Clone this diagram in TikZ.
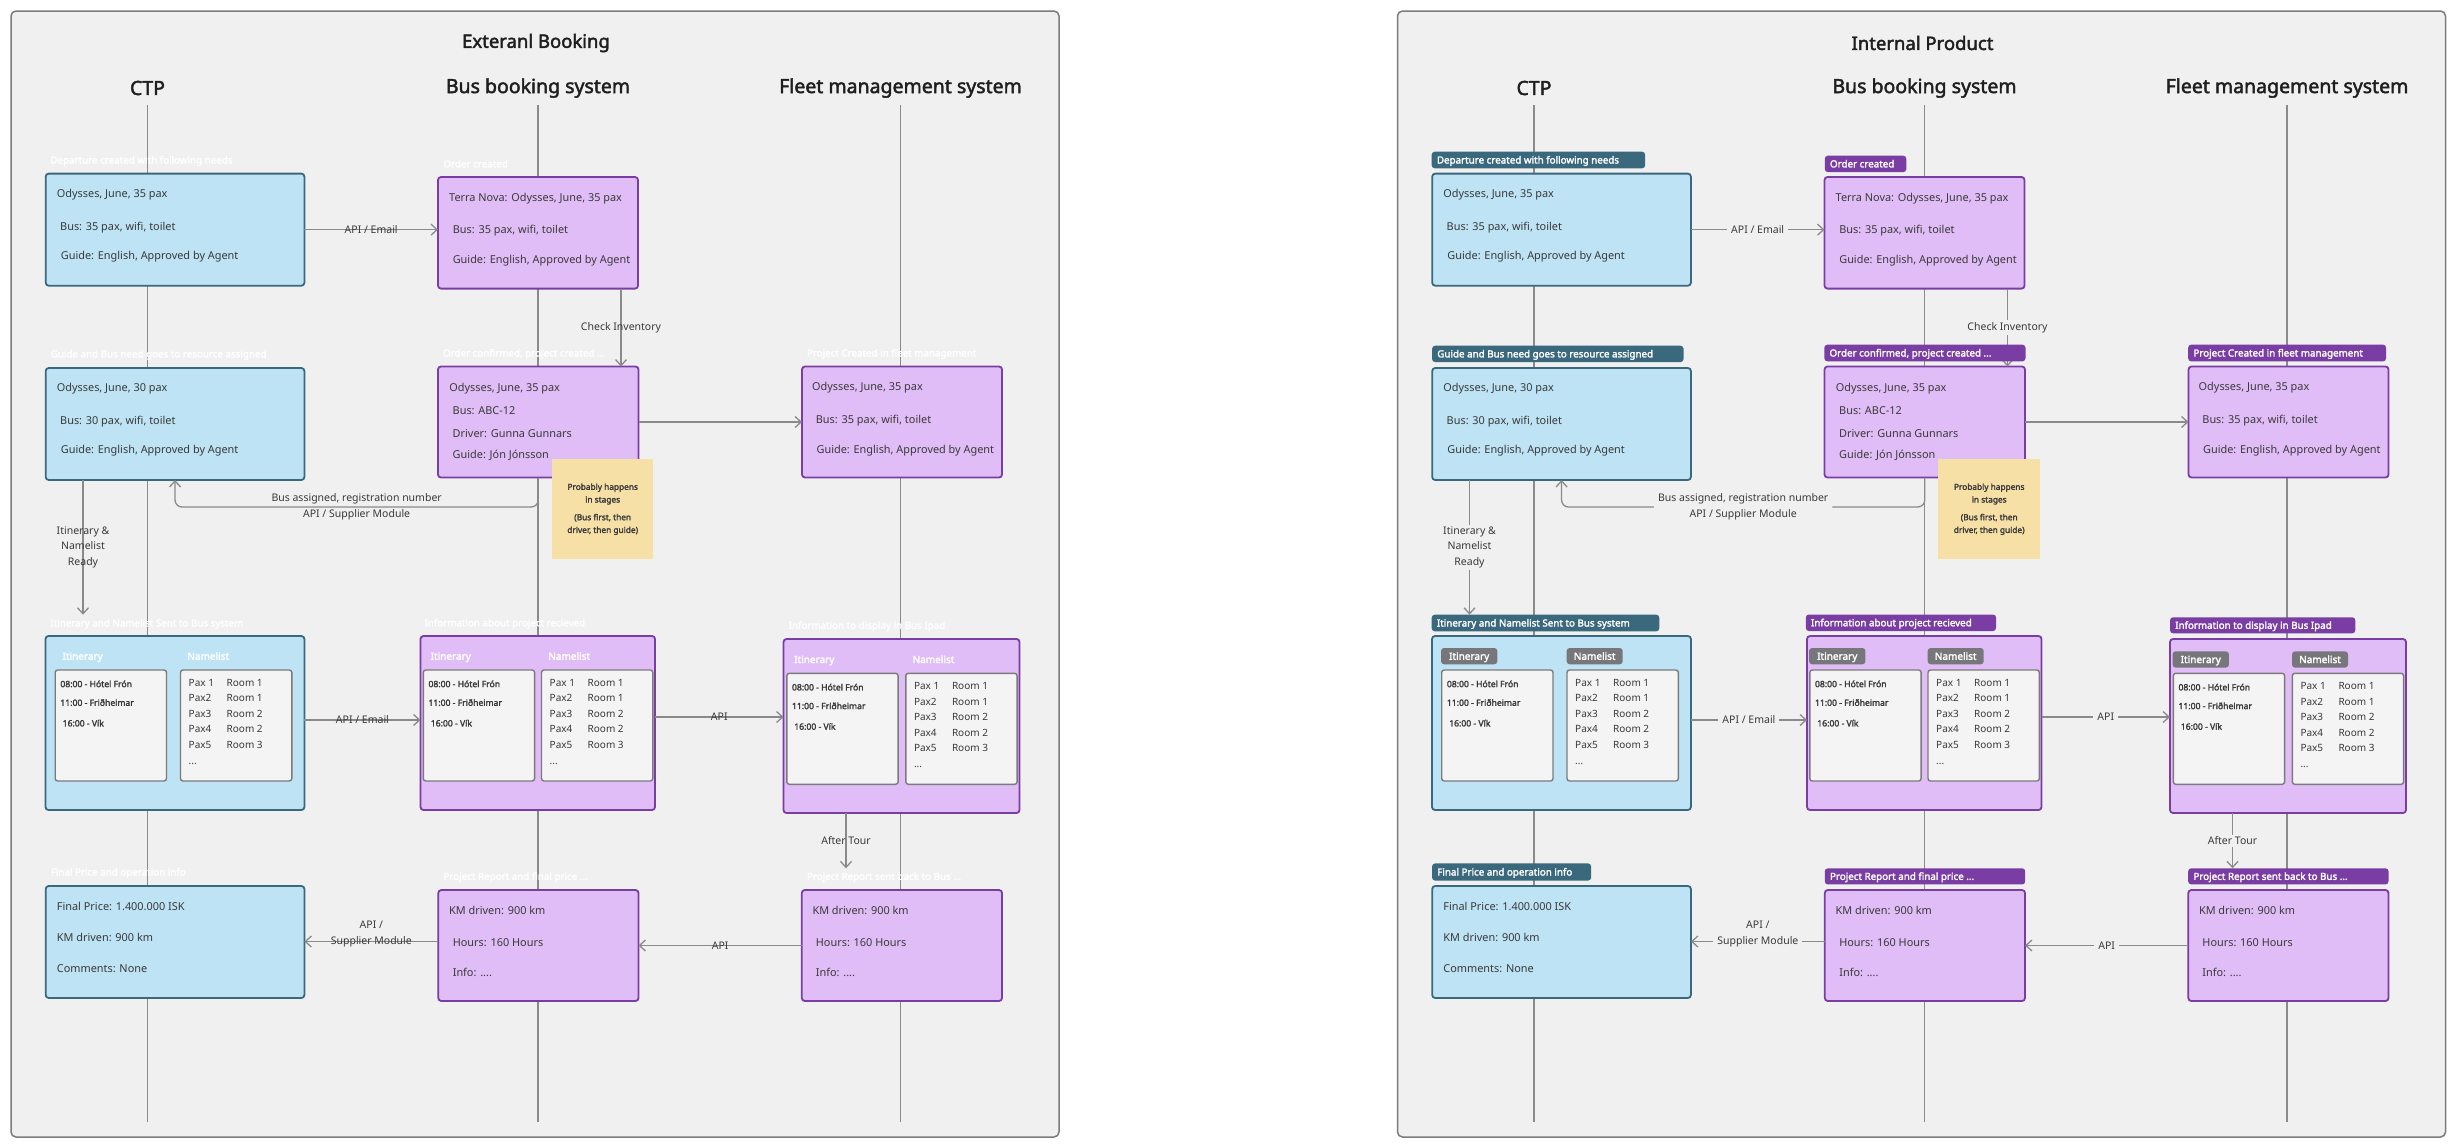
\documentclass[tikz,border=0pt]{standalone}
\usepackage{fontspec}
\setmainfont{Noto Sans}[AutoFakeBold=2.2]
\usetikzlibrary{arrows.meta,calc}
\definecolor{panelbg}{HTML}{F0F0F0}
\definecolor{panelline}{HTML}{7C7C7C}
\definecolor{bfill}{HTML}{BDE3F5}
\definecolor{bdark}{HTML}{3A687D}
\definecolor{pfill}{HTML}{E0BDF6}
\definecolor{pdark}{HTML}{7A3DA3}
\definecolor{gtag}{HTML}{77777B}
\definecolor{infill}{HTML}{F4F4F4}
\definecolor{inline}{HTML}{7B7B7B}
\definecolor{stickyc}{HTML}{F6E0A6}
\definecolor{linec}{HTML}{8A8A8A}
\definecolor{txtc}{HTML}{3A3A3A}

\newcommand\mkbox[6]{\node[#2, anchor=north west, minimum width={(#5-#3)*1pt}, minimum height={(#6-#4)*1pt}] (#1) at (#3,#4) {};}
\newcommand\mktag[7]{\mkbox{#1}{#2}{#3}{#4}{#5}{#6}\node[tagtxt, anchor=west] (#1x) at ($(#1.west)+(5,0)$) {#7};}
\newcommand\mktxt[4]{\node[boxtxt] (#1) at (#2,#3) {#4};}
\newcommand\mkgroup[4]{%
\node[innerbox, anchor=north west, minimum width=111.3pt, minimum height=111pt] (#1i) at (#2,#3) {};
\node[innerbox, anchor=north west, minimum width=111.3pt, minimum height=111pt] (#1n) at (#4,#3) {};
\node[graytag, anchor=north west, minimum width=56.3pt, minimum height=16.3pt] (#1ti) at ({#2-0.7},{#3-22}) {Itinerary};
\node[graytag, anchor=north west, minimum width=56pt, minimum height=16.3pt] (#1tn) at ({#4-0.3},{#3-22}) {Namelist};
\node[itxt] (#1i1) at ({#2+5},{#3+14}) {08:00 - Hótel Frón};
\node[itxt] (#1i2) at ({#2+5},{#3+32.7}) {11:00 - Friðheimar};
\node[itxt] (#1i3) at ({#2+7.3},{#3+53.3}) {16:00 - Vík};
\node[ntxt] (#1p1) at ({#4+8},{#3+12.7}) {Pax 1};
\node[ntxt] (#1r1) at ({#4+46},{#3+12.7}) {Room 1};
\node[ntxt] (#1p2) at ({#4+8},{#3+28.3}) {Pax2};
\node[ntxt] (#1r2) at ({#4+46},{#3+28.3}) {Room 1};
\node[ntxt] (#1p3) at ({#4+8},{#3+44}) {Pax3};
\node[ntxt] (#1r3) at ({#4+46},{#3+44}) {Room 2};
\node[ntxt] (#1p4) at ({#4+8},{#3+59.3}) {Pax4};
\node[ntxt] (#1r4) at ({#4+46},{#3+59.3}) {Room 2};
\node[ntxt] (#1p5) at ({#4+8},{#3+75}) {Pax5};
\node[ntxt] (#1r5) at ({#4+46},{#3+75}) {Room 3};
\node[ntxt] (#1p6) at ({#4+8},{#3+91}) {...};
}

\newcommand\mkpanel[1]{%
\node[panelfr, anchor=north west, minimum width=1048pt, minimum height=1126pt] (frame) at (11,11) {};
\node[titlef] (title) at (536,43) {#1};
\node[headf] (hctp) at (147.5,88) {CTP};
\node[headf] (hbus) at (538,88) {Bus booking system};
\node[headf] (hfleet) at (900.5,88) {Fleet management system};
\coordinate (lct) at (147.5,105); \coordinate (lcb) at (147.5,1122);
\coordinate (lbt) at (538,105); \coordinate (lbb) at (538,1122);
\coordinate (lft) at (900.5,105); \coordinate (lfb) at (900.5,1122);
\draw[life] (lct) -- (lcb);
\draw[life] (lbt) -- (lbb);
\draw[life] (lft) -- (lfb);
% boxes
\mkbox{b1}{bluebox}{45.7}{173.6}{304.4}{285.7}
\mkbox{b2}{purplebox}{438}{177}{638}{288.6}
\mkbox{b3}{bluebox}{45.7}{368}{304.4}{480}
\mkbox{b4}{purplebox}{438}{366.5}{638.5}{477.5}
\mkbox{b5}{purplebox}{802}{366.5}{1002}{477.5}
\mkbox{b6}{bluebox}{45.5}{636}{304.4}{810}
\mkbox{b7}{purplebox}{420.5}{636}{655}{810}
\mkbox{b8}{purplebox}{783.5}{639}{1019.5}{813}
\mkbox{b9}{bluebox}{45.7}{886}{304.4}{998}
\mkbox{b10}{purplebox}{438.3}{890}{638.5}{1001}
\mkbox{b11}{purplebox}{801.8}{890}{1002}{1001}
% connectors (under tags)
\coordinate (ba) at (0,507);
\draw[conn] (b1.east) -- node[elab] (e1) {API / Email} (b2.west |- b1.east);
\draw[conn] ($(b2.south east)+(-17,0)$) coordinate (ci) -- node[elab] (e2) {Check Inventory} (b4.north -| ci);
\draw[conn, rounded corners=7pt] (b4.south) -- (b4.south |- ba) -- node[elab] (e3) {Bus assigned, registration number\\API / Supplier Module} (b3.south |- ba) -- (b3.south);
\draw[conn] (b4.east) -- (b5.west |- b4.east);
\draw[conn] ($(b6.east)+(0,-3)$) coordinate (a6) -- node[elab] (e5) {API / Email} (b7.west |- a6);
\draw[conn] ($(b7.east)+(0,-6)$) coordinate (a7) -- node[elab] (e6) {API} (b8.west |- a7);
\draw[conn] (b11.west) -- node[elab] (e7) {API} (b10.east |- b11.west);
\draw[conn] ($(b10.west)+(0,-4)$) coordinate (a10) -- node[elab, yshift=7.5pt] (e8) {API /\\Supplier Module} (b9.east |- a10);
% tags
\mktag{t1}{tagblue}{45.2}{151.7}{258.6}{168.3}{Departure created with following needs}
\mktag{t2}{tagpurple}{438.3}{155.7}{519.8}{172.1}{Order created}
\mktag{t3}{tagblue}{45.6}{345.7}{297}{362.1}{Guide and Bus need goes to resource assigned}
\mktag{t4}{tagpurple}{437.8}{344.7}{639}{361.3}{Order confirmed, project created ...}
\mktag{t5}{tagpurple}{801.7}{344.6}{999.5}{361.4}{Project Created in fleet management}
\mktag{t6}{tagblue}{45.2}{614.7}{272.8}{631.3}{Itinerary and Namelist Sent to Bus system}
\mktag{t7}{tagpurple}{419.3}{614.5}{609.5}{631}{Information about project recieved}
\mktag{t8}{tagpurple}{783.5}{617.3}{968.8}{633.3}{Information to display in Bus Ipad}
\mktag{t9}{tagblue}{45.6}{863.4}{204.6}{880.6}{Final Price and operation info}
\mktag{t10}{tagpurple}{438.3}{868.3}{638.7}{884.4}{Project Report and final price ...}
\mktag{t11}{tagpurple}{801.7}{868.3}{1002}{884.4}{Project Report sent back to Bus ...}
% connectors ending at tags
\draw[conn] ($(b3.south west)+(37.3,0)$) coordinate (a3) -- node[elab] (e4) {Itinerary \&\\Namelist\\Ready} (t6.north -| a3);
\draw[conn] ($(b8.south west)+(62.5,0)$) coordinate (a8) -- node[elab] (e9) {After Tour} (t11.north -| a8);
% box texts
\mktxt{b1a}{56.7}{193.3}{Odysses, June, 35 pax}
\mktxt{b1b}{60}{226}{Bus: 35 pax, wifi, toilet}
\mktxt{b1c}{60.7}{255.7}{Guide: English, Approved by Agent}
\mktxt{b2a}{449}{197.5}{Terra Nova: Odysses, June, 35 pax}
\mktxt{b2b}{452.6}{229.6}{Bus: 35 pax, wifi, toilet}
\mktxt{b2c}{452.6}{259.6}{Guide: English, Approved by Agent}
\mktxt{b3a}{56.7}{387.9}{Odysses, June, 30 pax}
\mktxt{b3b}{60}{420}{Bus: 30 pax, wifi, toilet}
\mktxt{b3c}{60.7}{449.6}{Guide: English, Approved by Agent}
\mktxt{b4a}{449.2}{387.3}{Odysses, June, 35 pax}
\mktxt{b4b}{452.5}{410.7}{Bus: ABC-12}
\mktxt{b4c}{452.5}{433.3}{Driver: Gunna Gunnars}
\mktxt{b4d}{452.5}{454.3}{Guide: Jón Jónsson}
\mktxt{b5a}{812}{386.8}{Odysses, June, 35 pax}
\mktxt{b5b}{815.7}{419.3}{Bus: 35 pax, wifi, toilet}
\mktxt{b5c}{816.4}{449}{Guide: English, Approved by Agent}
\mktxt{b9a}{56.7}{906}{Final Price: 1.400.000 ISK}
\mktxt{b9b}{56.7}{937}{KM driven: 900 km}
\mktxt{b9c}{56.7}{968}{Comments: None}
\mktxt{b10a}{449}{910}{KM driven: 900 km}
\mktxt{b10b}{452.6}{942}{Hours: 160 Hours}
\mktxt{b10c}{452.6}{972}{Info: ....}
\mktxt{b11a}{812.3}{910}{KM driven: 900 km}
\mktxt{b11b}{815.7}{942}{Hours: 160 Hours}
\mktxt{b11c}{815.7}{972}{Info: ....}
% itinerary / namelist groups
\mkgroup{g6}{55.2}{670}{180.5}
\mkgroup{g7}{423.3}{670}{541.5}
\mkgroup{g8}{786.8}{673.3}{905.8}
% sticky note
\node[stickyf, minimum width=101.5pt, minimum height=99.7pt] (sticky) at (602.7,509.2) {Probably happens\\in stages\\[5pt](Bus first, then\\driver, then guide)};
}

\begin{document}
\begin{tikzpicture}[x=1pt,y=-1pt,
  panelfr/.style={draw=panelline, fill=panelbg, line width=1.5pt, rounded corners=5pt, inner sep=0pt, outer sep=0pt},
  titlef/.style={font=\bfseries\fontsize{18.5}{22}\selectfont, text=black!88},
  headf/.style={font=\bfseries\fontsize{19.5}{23}\selectfont, text=black!88},
  life/.style={draw=linec, line width=1.2pt},
  conn/.style={draw=linec, line width=1.3pt, -{Straight Barb[length=6pt,width=11pt]}},
  bluebox/.style={draw=bdark, fill=bfill, line width=1.8pt, rounded corners=3pt, inner sep=0pt, outer sep=0pt},
  purplebox/.style={draw=pdark, fill=pfill, line width=1.8pt, rounded corners=3pt, inner sep=0pt, outer sep=0pt},
  innerbox/.style={draw=inline, fill=infill, line width=1.4pt, rounded corners=2.5pt, inner sep=0pt, outer sep=0pt},
  stickyf/.style={fill=stickyc, inner sep=0pt, outer sep=0pt, align=center, text=txtc, font=\bfseries\fontsize{8.3}{12.7}\selectfont},
  boxtxt/.style={font=\fontsize{10.9}{13}\selectfont, text=txtc, anchor=west, inner sep=0pt, text height=8pt, text depth=0pt},
  tagbase/.style={inner sep=0pt, outer sep=0pt, rounded corners=3pt},
  tagtxt/.style={font=\bfseries\fontsize{9.8}{12}\selectfont, text=white, inner sep=0pt, text height=7pt, text depth=0pt},
  graytagbase/.style={inner sep=0pt, outer sep=0pt, rounded corners=3pt, font=\bfseries\fontsize{10}{12}\selectfont, text=white, text height=7.2pt, text depth=0pt},
  itxt/.style={font=\bfseries\fontsize{8.6}{10}\selectfont, text=txtc, anchor=west, inner sep=0pt, text height=6.2pt, text depth=0pt},
  ntxt/.style={font=\fontsize{10}{12}\selectfont, text=txtc, anchor=west, inner sep=0pt, text height=7.2pt, text depth=0pt},
  elabbase/.style={font=\fontsize{10.5}{15.5}\selectfont, text=txtc, align=center, inner xsep=4pt, inner ysep=2pt},
  leftmode/.style={tagblue/.style={tagbase}, tagpurple/.style={tagbase}, graytag/.style={graytagbase}, elab/.style={elabbase}},
  rightmode/.style={tagblue/.style={tagbase, fill=bdark}, tagpurple/.style={tagbase, fill=pdark}, graytag/.style={graytagbase, fill=gtag}, elab/.style={elabbase, fill=panelbg}}
]
\useasboundingbox (0,0) rectangle (2455,1146);
\fill[white] (0,0) rectangle (2455,1146);
\begin{scope}[leftmode, name prefix=L-]
\mkpanel{Exteranl Booking}
\end{scope}
\begin{scope}[rightmode, name prefix=R-, xshift=1386.5pt]
\mkpanel{Internal Product}
\end{scope}
\end{tikzpicture}
\end{document}
